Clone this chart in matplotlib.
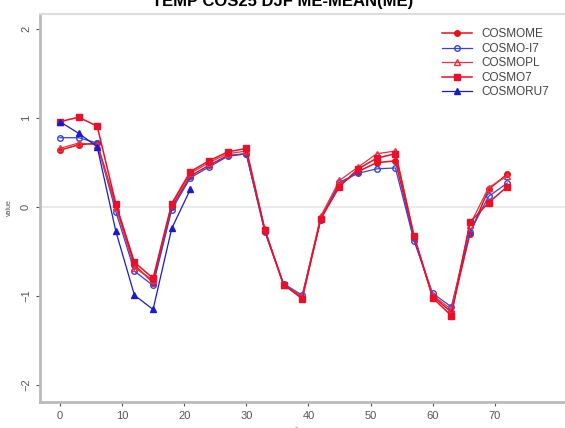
import matplotlib
matplotlib.use("Agg")
import matplotlib.pyplot as plt
import numpy as np

plt.rcParams['font.family'] = ['Liberation Sans', 'DejaVu Sans']

# forecast lead time (hours)
hours = list(range(0, 73, 3))

cosmome = [0.64, 0.70, 0.72, 0.02, -0.65, -0.85, 0.00, 0.35, 0.47, 0.58, 0.60, -0.27, -0.87,
           -1.02, -0.12, 0.25, 0.40, 0.50, 0.52, -0.35, -1.00, -1.18, -0.30, 0.20, 0.37]
cosmo_i7 = [0.78, 0.78, 0.72, -0.05, -0.72, -0.88, -0.03, 0.33, 0.45, 0.57, 0.60, -0.28, -0.86,
            -0.99, -0.14, 0.28, 0.38, 0.43, 0.44, -0.38, -0.97, -1.12, -0.28, 0.12, 0.27]
cosmopl = [0.66, 0.72, 0.70, 0.00, -0.68, -0.82, 0.03, 0.38, 0.50, 0.60, 0.63, -0.25, -0.88,
           -1.00, -0.10, 0.30, 0.45, 0.60, 0.63, -0.33, -0.99, -1.15, -0.20, 0.22, 0.35]
cosmo7 = [0.96, 1.01, 0.91, 0.04, -0.62, -0.80, 0.04, 0.40, 0.52, 0.62, 0.66, -0.26, -0.87,
          -1.03, -0.13, 0.23, 0.43, 0.55, 0.60, -0.32, -1.02, -1.22, -0.17, 0.05, 0.23]
hours_ru7 = hours[:8]
cosmoru7 = [0.96, 0.83, 0.68, -0.27, -0.99, -1.15, -0.24, 0.20]

fig = plt.figure(figsize=(5.65, 4.28), dpi=100)
ax = fig.add_axes([40/565, 26/428, 1 - 40/565, (402 - 14)/428])

ax.axhline(0, color='#e8e8e8', lw=1.2, zorder=0)

ax.plot(hours, cosmome, color='#e8101a', marker='o', ms=4, lw=1.1, label='COSMOME')
ax.plot(hours, cosmo_i7, color='#3344dd', marker='o', ms=4, mfc='none', lw=0.9, label='COSMO-I7')
ax.plot(hours, cosmopl, color='#f03040', marker='^', ms=4, mfc='none', lw=0.9, label='COSMOPL')
ax.plot(hours, cosmo7, color='#e8102a', marker='s', ms=3.8, lw=1.1, label='COSMO7')
ax.plot(hours_ru7, cosmoru7, color='#1a1acc', marker='^', ms=4, lw=0.9, label='COSMORU7')

ax.set_xlim(-3.2, 81.3)
ax.set_ylim(-2.19, 2.17)
ax.set_xticks(range(0, 80, 10))
ax.set_yticks([-2, -1, 0, 1, 2])
ax.tick_params(labelsize=8, colors='#555555', length=3, width=0.8)
for lab in ax.get_yticklabels():
    lab.set_rotation(90)
    lab.set_va('center')

for side in ['left', 'bottom']:
    ax.spines[side].set_color('#bbbbbb')
    ax.spines[side].set_linewidth(2)
ax.spines['top'].set_color('#dddddd')
ax.spines['top'].set_linewidth(1.5)
ax.spines['right'].set_visible(False)

ax.set_ylabel('value', fontsize=5, color='#555555', labelpad=6)
ax.set_xlabel('time', fontsize=6, color='#555555')

leg = ax.legend(loc='upper right', bbox_to_anchor=(0.985, 0.985), frameon=False,
                fontsize=8.5, handlelength=2.5, handletextpad=0.8, labelspacing=0.22,
                borderaxespad=0.3)
for t in leg.get_texts():
    t.set_color('#444444')

fig.text(0.5, 1 - 6/428, 'TEMP COS25 DJF ME-MEAN(ME)', ha='center', va='baseline',
         fontsize=12, fontweight='bold')

fig.savefig('out.png', dpi=100)
